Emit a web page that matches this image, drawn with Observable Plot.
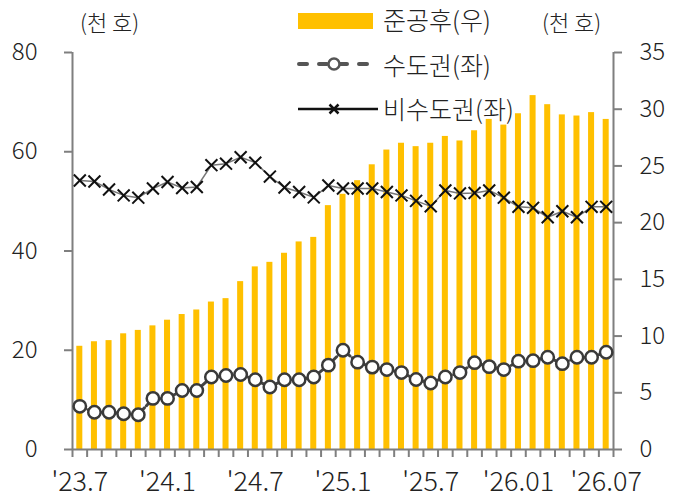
<!DOCTYPE html>
<html>
<head>
<meta charset="utf-8">
<script src="https://cdn.jsdelivr.net/npm/d3@7"></script>
<script src="https://cdn.jsdelivr.net/npm/@observablehq/plot@0.6"></script>
<style>
  body { margin: 0; background: white; }
  #wrap { position: relative; width: 678px; height: 502px; font-family: "Noto Sans CJK KR", "Noto Sans", sans-serif; font-weight: 300; color: #222; }
  .lbl { position: absolute; white-space: nowrap; line-height: 30px; height: 30px; }
  .unit { font-size: 22px; }
  .leg { font-size: 25px; }
  #legsym { position: absolute; left: 0; top: 0; }
</style>
</head>
<body>
<div id="wrap"></div>
<script>
// Months 2023.07 – 2026.07
const months = ["2023.07","2023.08","2023.09","2023.10","2023.11","2023.12",
  "2024.01","2024.02","2024.03","2024.04","2024.05","2024.06",
  "2024.07","2024.08","2024.09","2024.10","2024.11","2024.12",
  "2025.01","2025.02","2025.03","2025.04","2025.05","2025.06",
  "2025.07","2025.08","2025.09","2025.10","2025.11","2025.12",
  "2026.01","2026.02","2026.03","2026.04","2026.05","2026.06","2026.07"];
const tickLabels = ["'23.7","'24.1","'24.7","'25.1","'25.7","'26.01","'26.07"];
const tickIndex = [0, 6, 12, 18, 24, 30, 36];

// 준공후 (right axis, 천 호)
const completed = [9.1, 9.5, 9.6, 10.2, 10.5, 10.9, 11.4, 11.9, 12.3, 13.0, 13.3, 14.8,
  16.1, 16.5, 17.3, 18.3, 18.7, 21.5, 22.5, 23.7, 25.1, 26.4, 27.0, 26.7,
  27.0, 27.6, 27.2, 28.1, 29.1, 28.6, 29.6, 31.2, 30.4, 29.5, 29.4, 29.7, 29.1];
// 수도권 (left axis, 천 호)
const capital = [8.7, 7.5, 7.5, 7.2, 7.0, 10.3, 10.3, 11.9, 11.9, 14.6, 14.9, 15.1,
  14.05, 12.6, 14.05, 14.05, 14.6, 17.0, 20.0, 17.6, 16.6, 16.1, 15.5, 14.1,
  13.4, 14.6, 15.5, 17.5, 16.7, 16.1, 17.8, 17.9, 18.6, 17.3, 18.6, 18.6, 19.6];
// 비수도권 (left axis, 천 호)
const nonCapital = [54.2, 54.0, 52.4, 51.2, 50.75, 52.6, 53.9, 52.7, 52.9, 57.3, 57.6, 58.9,
  57.8, 55.0, 52.8, 51.9, 50.8, 53.2, 52.6, 52.6, 52.6, 51.9, 51.2, 50.1,
  49.0, 52.2, 51.6, 51.7, 52.2, 50.75, 48.9, 48.7, 46.8, 48.0, 46.8, 48.9, 48.9];

const leftTicks = [0, 20, 40, 60, 80];
const rightTicks = [0, 5, 10, 15, 20, 25, 30, 35];
const leftMax = 80, rightMax = 35;
const k = leftMax / rightMax;

const rows = months.map((m, i) => ({
  i, month: m,
  completed: completed[i] * k,
  capital: capital[i],
  nonCapital: nonCapital[i]
}));

const axisColor = "#7f7f7f";
const chart = Plot.plot({
  width: 678,
  height: 502,
  marginLeft: 72,
  marginRight: 65,
  marginTop: 52,
  marginBottom: 53,
  style: { fontFamily: "'Noto Sans CJK KR', 'Noto Sans', sans-serif", fontWeight: 300, fontSize: "24px", color: "#222", background: "transparent", overflow: "visible" },
  x: { type: "linear", domain: [0, months.length] },
  y: { domain: [0, leftMax] },
  marks: [
    Plot.rectY(rows, { x1: d => d.i, x2: d => d.i + 1, y: "completed", fill: "#FFC000", insetLeft: 4.3, insetRight: 4.3 }),
    Plot.ruleX([0, months.length], { y1: 0, y2: leftMax, stroke: axisColor, strokeWidth: 2 }),
    Plot.ruleY([0], { stroke: axisColor, strokeWidth: 2 }),
    Plot.axisY({ anchor: "left", ticks: leftTicks, tickSize: 8, tickPadding: 27, stroke: axisColor, strokeWidth: 2, fill: "#222", label: null, fontSize: 24 }),
    Plot.axisY({ anchor: "right", ticks: rightTicks.map(v => v * k), tickFormat: d => String(Math.round(d / k)), tickSize: 8, tickPadding: 18, stroke: axisColor, strokeWidth: 2, fill: "#222", label: null, fontSize: 24 }),
    Plot.axisX({ ticks: d3.range(months.length + 1), tickSize: 8, tickFormat: () => "", stroke: axisColor, strokeWidth: 2, label: null }),
    Plot.axisX({ ticks: tickIndex.map(i => i + 0.5), tickSize: 0, tickPadding: 22, tickFormat: d => tickLabels[tickIndex.indexOf(Math.round(d - 0.5))], fill: "#222", label: null, fontSize: 27 }),
    Plot.line(rows, { x: d => d.i + 0.5, y: "nonCapital", stroke: "#777", strokeWidth: 1.5 }),
    Plot.line(rows, { x: d => d.i + 0.5, y: "capital", stroke: "#444", strokeWidth: 3, strokeDasharray: "6,3" }),
    Plot.dot(rows, { x: d => d.i + 0.5, y: "capital", r: 6.2, fill: "white", stroke: "#3a3a3a", strokeWidth: 2.5 }),
    Plot.dot(rows, { x: d => d.i + 0.5, y: "nonCapital", symbol: "times", r: 5.5, stroke: "#111", strokeWidth: 2 })
  ]
});

const wrap = document.getElementById("wrap");
wrap.appendChild(chart);
chart.style.position = "absolute";
chart.style.left = "0px";
chart.style.top = "0px";

// Legend symbols
const ns = "http://www.w3.org/2000/svg";
const sym = document.createElementNS(ns, "svg");
sym.setAttribute("id", "legsym");
sym.setAttribute("width", "678");
sym.setAttribute("height", "130");
sym.innerHTML = `
  <rect x="298" y="13" width="75" height="16" fill="#FFC000"></rect>
  <line x1="299" y1="64" x2="373" y2="64" stroke="#555" stroke-width="4" stroke-linecap="round" stroke-dasharray="8,12"></line>
  <circle cx="334" cy="64" r="5.5" fill="white" stroke="#555" stroke-width="2.5"></circle>
  <line x1="298" y1="109" x2="378" y2="109" stroke="#111" stroke-width="2.5"></line>
  <path d="M329.5,104.5 L338.5,113.5 M338.5,104.5 L329.5,113.5" stroke="#111" stroke-width="2.5" fill="none"></path>
`;
wrap.appendChild(sym);

function addLabel(text, left, centerY, cls) {
  const d = document.createElement("div");
  d.className = "lbl " + cls;
  d.textContent = text;
  d.style.left = left + "px";
  d.style.top = (centerY - 15) + "px";
  wrap.appendChild(d);
  return d;
}
addLabel("(천 호)", 80, 21, "unit");
addLabel("(천 호)", 542, 21, "unit");
addLabel("준공후(우)", 383, 19, "leg");
addLabel("수도권(좌)", 383, 64, "leg");
addLabel("비수도권(좌)", 383, 108, "leg");
</script>
</body>
</html>
